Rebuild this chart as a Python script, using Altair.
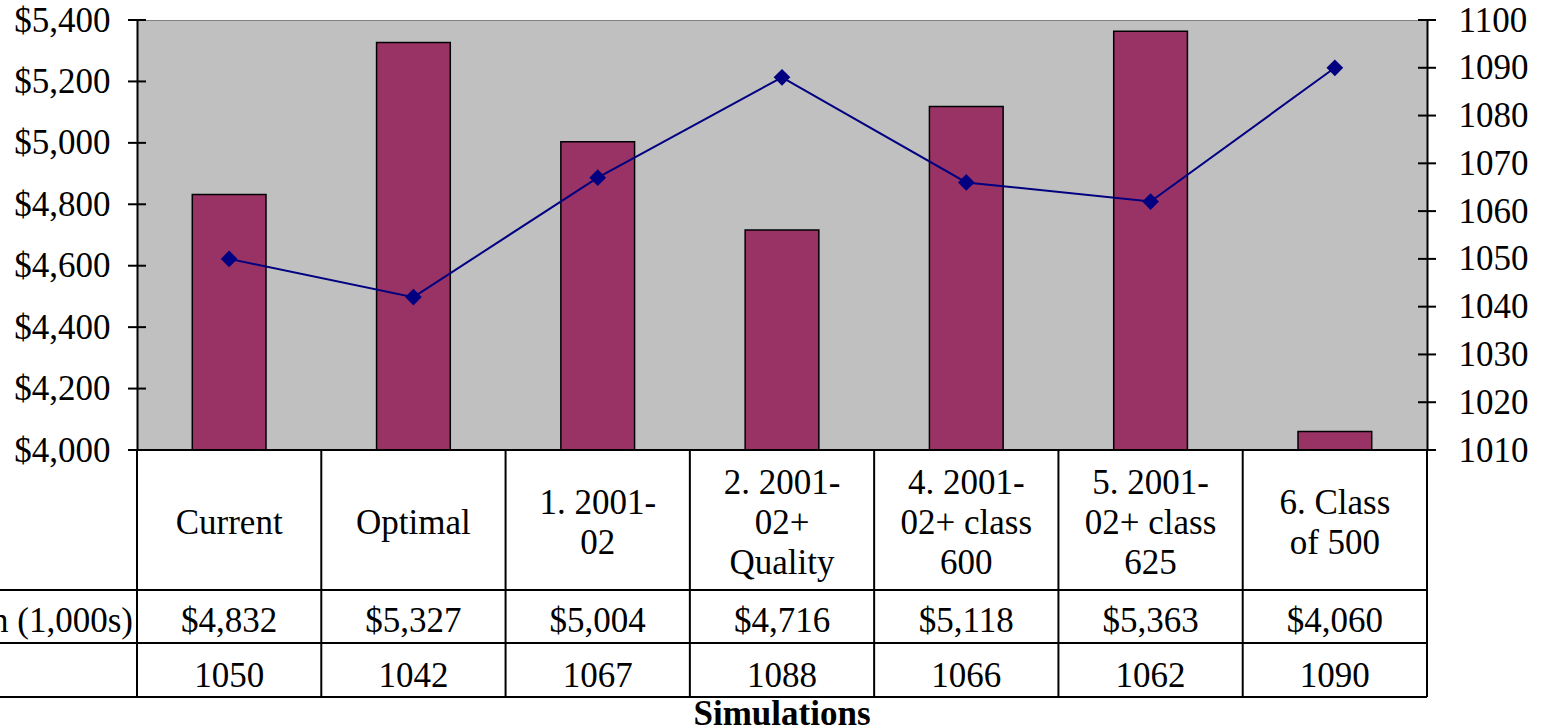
import altair as alt
import pandas as pd

# ---- data ----
categories = ["Current", "Optimal", "1. 2001-02", "2. 2001-02+ Quality",
              "4. 2001-02+ class 600", "5. 2001-02+ class 625", "6. Class of 500"]
header_labels = ["Current", "Optimal", "1. 2001-\n02", "2. 2001-\n02+\nQuality",
                 "4. 2001-\n02+ class\n600", "5. 2001-\n02+ class\n625", "6. Class\nof 500"]
revenue = [4832, 5327, 5004, 4716, 5118, 5363, 4060]
sat = [1050, 1042, 1067, 1088, 1066, 1062, 1090]
left_ticks = [4000, 4200, 4400, 4600, 4800, 5000, 5200, 5400]
right_ticks = [1010, 1020, 1030, 1040, 1050, 1060, 1070, 1080, 1090, 1100]
row_label_1 = "Net Tuition (1,000s)"
x_title = "Simulations"

df = pd.DataFrame({
    "cat": categories,
    "header": header_labels,
    "nlines": [h.count("\n") + 1 for h in header_labels],
    "rev": revenue,
    "sat": sat,
    "rev_label": [f"${v:,}" for v in revenue],
    "sat_label": [str(v) for v in sat],
})
left_df = pd.DataFrame({"rev": left_ticks})
right_df = pd.DataFrame({"sat": right_ticks})
one = pd.DataFrame({"t": [row_label_1]})
title_df = pd.DataFrame({"t": [x_title]})

W, H = 1290, 430
FONT = "Liberation Serif"
FS = 35
LH = 40
STEP = W / len(categories)

x = alt.X("cat:N", sort=categories, bandPosition=0.5,
          scale=alt.Scale(paddingInner=0.6, paddingOuter=0.3), axis=None)

axis_common = dict(ticks=False, domain=True, domainColor="black", domainWidth=2,
                   labelFont=FONT, labelFontSize=FS, labelColor="black",
                   grid=False, title=None, labelOverlap=False, labelFlush=False,
                   labelBound=False)

yL = alt.Y("rev:Q", scale=alt.Scale(domain=[4000, 5400], nice=False, zero=False),
           axis=alt.Axis(orient="left", values=left_ticks, format="$,d",
                         labelPadding=27, **axis_common))
yR = alt.Y("sat:Q", scale=alt.Scale(domain=[1010, 1100], nice=False, zero=False),
           axis=alt.Axis(orient="right", values=right_ticks, format="d",
                         labelPadding=31, **axis_common))

base = alt.Chart(df)

bars = base.mark_bar(color="#993366", stroke="black", strokeWidth=1.5).encode(
    x=x, y=yL, y2=alt.datum(4000))

left_tick_marks = alt.Chart(left_df).mark_rule(color="black", strokeWidth=2).encode(
    y=yL, x=alt.value(-9), x2=alt.value(9))

# table grid
hlines = []
hlines.append(alt.Chart(one).mark_rule(color="black", strokeWidth=2).encode(
    x=alt.value(0), x2=alt.value(W), y=alt.value(H)))
for yy in [570, 623, 677]:
    hlines.append(alt.Chart(one).mark_rule(color="black", strokeWidth=2).encode(
        x=alt.value(-137), x2=alt.value(W), y=alt.value(yy)))

vlines = base.mark_rule(color="black", strokeWidth=2, xOffset=-STEP / 2).encode(
    x=x, y=alt.value(H), y2=alt.value(677))
vline_right = alt.Chart(one).mark_rule(color="black", strokeWidth=2).encode(
    x=alt.value(W), y=alt.value(H), y2=alt.value(677))

txt = dict(font=FONT, fontSize=FS, color="black", baseline="middle")
HEADER_MID = 503
header_layers = []
for n in [1, 2, 3]:
    header_layers.append(
        base.transform_filter(alt.datum.nlines == n)
        .mark_text(lineBreak="\n", lineHeight=LH, **txt)
        .encode(x=x, y=alt.value(HEADER_MID - (n - 1) * LH / 2), text="header:N"))
row1_text = base.mark_text(**txt).encode(x=x, y=alt.value(601), text="rev_label:N")
row2_text = base.mark_text(**txt).encode(x=x, y=alt.value(656), text="sat_label:N")
row1_label = alt.Chart(one).mark_text(align="right", **txt).encode(
    x=alt.value(-4), y=alt.value(601), text="t:N")
xtitle = alt.Chart(title_df).mark_text(fontWeight="bold", **txt).encode(
    x=alt.value(W / 2), y=alt.value(694), text="t:N")

left_group = alt.layer(bars, left_tick_marks, *hlines, vlines, vline_right,
                       *header_layers, row1_text, row2_text, row1_label, xtitle)

line = base.mark_line(color="#000080", strokeWidth=2).encode(x=x, y=yR)
points = base.mark_point(shape="diamond", filled=True, size=280, color="#000080",
                         opacity=1).encode(x=x, y=yR)
right_tick_marks = alt.Chart(right_df).mark_rule(color="black", strokeWidth=2).encode(
    y=yR, x=alt.value(W - 9), x2=alt.value(W + 9))

right_group = alt.layer(line, points, right_tick_marks)

chart = alt.layer(left_group, right_group).resolve_scale(y="independent").properties(
    width=W, height=H,
    padding={"left": 137, "top": 20, "right": 115, "bottom": 278},
    autosize=alt.AutoSizeParams(type="none"),
    background="white",
).configure_view(fill="#C0C0C0", stroke="#808080", strokeWidth=1)

chart.save("out.html", embed_options={"renderer": "svg", "actions": False})
